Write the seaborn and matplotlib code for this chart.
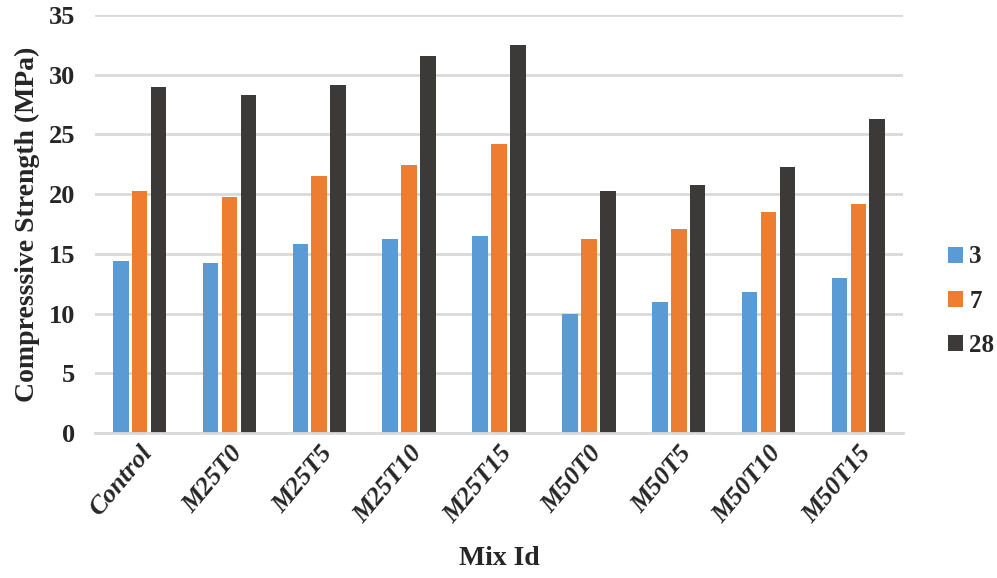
import numpy as np
import pandas as pd
import seaborn as sns
from matplotlib import pyplot as plt
from matplotlib.patches import Patch

mix_ids = ['Control', 'M25T0', 'M25T5', 'M25T10', 'M25T15', 'M50T0', 'M50T5', 'M50T10', 'M50T15']
ages = ['3', '7', '28']
strength_3 = [14.4, 14.2, 15.8, 16.2, 16.5, 10.0, 11.0, 11.8, 13.0]
strength_7 = [20.3, 19.8, 21.5, 22.4, 24.2, 16.2, 17.1, 18.5, 19.2]
strength_28 = [29.0, 28.3, 29.1, 31.6, 32.5, 20.3, 20.8, 22.3, 26.3]

colors = {'3': '#5B9BD5', '7': '#ED7D31', '28': '#3B3A39'}

rows = []
for age, vals in zip(ages, [strength_3, strength_7, strength_28]):
    for mix, v in zip(mix_ids, vals):
        rows.append((mix, age, v))
df = pd.DataFrame(rows, columns=['Mix Id', 'Age', 'Strength'])

sns.set_theme(style='white')
plt.rcParams['font.family'] = ['Liberation Serif', 'DejaVu Serif']

fig = plt.figure(figsize=(9.97, 5.78), dpi=100)
ax = fig.add_axes([0.095, 0.251, 0.811, 0.723])

sns.barplot(data=df, x='Mix Id', y='Strength', hue='Age', order=mix_ids, hue_order=ages,
            palette=colors, saturation=1, width=0.63, gap=0.17, linewidth=0, ax=ax, legend=False)

ax.set_ylim(0, 35)
ax.set_xlim(-0.5, len(mix_ids) - 0.5)
ax.set_yticks(range(0, 36, 5))
ax.yaxis.grid(True, color='#D9D9D9', linewidth=2)
ax.set_axisbelow(True)
for side in ['top', 'right', 'left']:
    ax.spines[side].set_visible(False)
ax.spines['bottom'].set_color('#D9D9D9')
ax.spines['bottom'].set_linewidth(2)

ax.tick_params(axis='y', length=0, pad=14)
ax.tick_params(axis='x', length=0, pad=6)
for lbl in ax.get_yticklabels():
    lbl.set_fontsize(19)
    lbl.set_fontweight('bold')
ax.set_xticks(range(len(mix_ids)))
ax.set_xticklabels(mix_ids, rotation=50, ha='right', rotation_mode='anchor',
                   fontsize=19, fontweight='bold', fontstyle='italic')

ax.set_ylabel('Compresssive Strength (MPa)', fontsize=20, fontweight='bold', labelpad=6)
ax.set_xlabel('Mix Id', fontsize=20, fontweight='bold', labelpad=14)

handles = [Patch(facecolor=colors[a], edgecolor='none') for a in ages]
fig.legend(handles, ages, loc='center left', bbox_to_anchor=(0.951, 0.479), frameon=False,
           borderpad=0, borderaxespad=0,
           prop={'size': 18, 'weight': 'bold'}, handlelength=0.6, handleheight=0.6,
           handletextpad=0.25, labelspacing=0.85)

fig.savefig('out.png', dpi=100)
